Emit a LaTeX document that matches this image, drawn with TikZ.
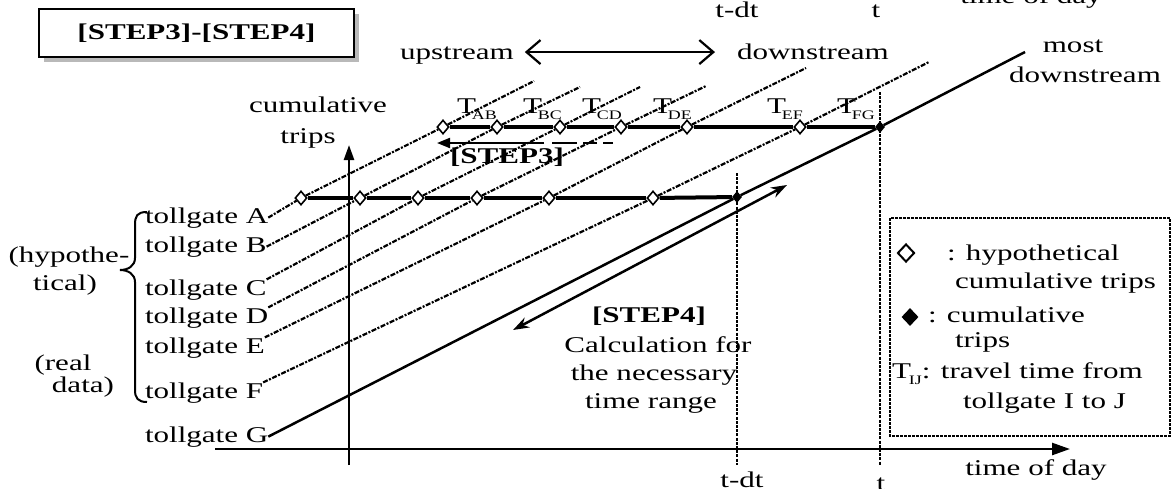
\documentclass[tikz,border=0pt]{standalone}
\usepackage{fontspec}
\setmainfont{Liberation Serif}[FakeStretch=1.38]
\usetikzlibrary{arrows.meta,shapes.geometric}
\newcommand\Tsub[2][-4pt]{T\kern#1\raisebox{-6pt}{\fontsize{13}{13}\selectfont #2}}
\begin{document}
\begin{tikzpicture}[x=1pt,y=-1pt,
  lbl/.style={font=\fontsize{22.5}{29}\selectfont, inner sep=0pt, outer sep=0pt},
  bld/.style={font=\fontsize{22.5}{29}\selectfont\bfseries, inner sep=0pt, outer sep=0pt},
  odia/.style={diamond, draw, fill=white, line width=1.6pt, minimum width=12pt, minimum height=14pt, inner sep=0pt},
  fdia/.style={diamond, fill=black, minimum width=10pt, minimum height=12pt, inner sep=0pt},
  dline/.style={line width=2.2pt, dash pattern=on 5pt off 1.5pt on 2pt off 1.5pt},
  rowline/.style={line width=4pt},
  vdot/.style={line width=2.5pt, dash pattern=on 3pt off 1.2pt},
]
\useasboundingbox (0,0) rectangle (1174,488);

% title box with shadow
\fill[gray!55] (44,14) rectangle (359,62);
\node[draw, fill=white, line width=2pt, minimum width=315pt, minimum height=48pt, anchor=north west, bld] (title) at (39,9) {[STEP3]-[STEP4]};

% diamonds (lower row y=198, upper row y=127)
\node[odia] (dA1) at (301,198) {};
\node[odia] (dB1) at (360,198) {};
\node[odia] (dC1) at (418,198) {};
\node[odia] (dD1) at (477,198) {};
\node[odia] (dE1) at (549,198) {};
\node[odia] (dF1) at (653,198) {};
\node[fdia] (dG1) at (737,197) {};
\node[odia] (dA2) at (443,127) {};
\node[odia] (dB2) at (497,127) {};
\node[odia] (dC2) at (560,127) {};
\node[odia] (dD2) at (621,127) {};
\node[odia] (dE2) at (687,127) {};
\node[odia] (dF2) at (800,127) {};
\node[fdia] (dG2) at (880,127) {};

% line ends
\coordinate (eA) at (534,81);
\coordinate (eB) at (580,87);
\coordinate (eC) at (640,87);
\coordinate (eD) at (706,86);
\coordinate (eE) at (806,68);
\coordinate (eF) at (929,62);
\coordinate (eG) at (1025,52);

% tollgate labels
\node[lbl, anchor=base west] (tgA) at (145,223) {tollgate A};
\node[lbl, anchor=base west] (tgB) at (145,252) {tollgate B};
\node[lbl, anchor=base west] (tgC) at (145,295) {tollgate C};
\node[lbl, anchor=base west] (tgD) at (145,323) {tollgate D};
\node[lbl, anchor=base west] (tgE) at (145,353) {tollgate E};
\node[lbl, anchor=base west] (tgF) at (145,398) {tollgate F};
\node[lbl, anchor=base west] (tgG) at (145,442) {tollgate G};

% axes
\coordinate (xs) at (215,449); \coordinate (xe) at (1070,449);
\coordinate (ys) at (349,465); \coordinate (ye) at (349,145);
\draw[line width=2.5pt, -{Triangle[length=18pt,width=12pt]}] (xs) -- (xe);
\draw[line width=2.5pt, -{Triangle[length=15pt,width=10pt]}] (ys) -- (ye);

% vertical dotted time lines
\coordinate (tdtT) at (737,173); \coordinate (tdtB) at (737,465);
\coordinate (tT) at (880,92); \coordinate (tB) at (880,465);
\draw[vdot] (tdtT) -- (tdtB);
\draw[vdot] (tT) -- (tB);

% cumulative curves
\draw[dline] (tgA.east) -- (dA1) -- (dA2) -- (eA);
\draw[dline] (tgB.east) -- (dB1) -- (dB2) -- (eB);
\draw[dline] (tgC.north east) -- (dC1) -- (dC2) -- (eC);
\draw[dline] (tgD.north east) -- (dD1) -- (dD2) -- (eD);
\draw[dline] (tgE.north east) -- (dE1) -- (dE2) -- (eE);
\draw[dline] (tgF.north east) -- (dF1) -- (dF2) -- (eF);
\draw[line width=2.5pt] (tgG.east) -- (dG1) -- (dG2) -- (eG);

% thick rows
\foreach \a/\b in {A/B,B/C,C/D,D/E,E/F,F/G} {
  \draw[rowline] (d\a1) -- (d\b1);
  \draw[rowline] (d\a2) -- (d\b2);
}

% travel time labels
\node[lbl, anchor=base west] (TAB) at (457,113) {\Tsub{AB}};
\node[lbl, anchor=base west] (TBC) at (523,113) {\Tsub{BC}};
\node[lbl, anchor=base west] (TCD) at (582,113) {\Tsub{CD}};
\node[lbl, anchor=base west] (TDE) at (653,113) {\Tsub{DE}};
\node[lbl, anchor=base west] (TEF) at (767,113) {\Tsub{EF}};
\node[lbl, anchor=base west] (TFG) at (837,113) {\Tsub{FG}};

% STEP3
\coordinate (s3a) at (613,143); \coordinate (s3b) at (437,143);
\draw[line width=2pt, dash pattern=on 10pt off 6pt on 14pt off 6pt on 25pt off 8pt on 200pt, -{Triangle[length=13pt,width=10pt]}] (s3a) -- (s3b);
\node[bld, anchor=base] (s3) at (507,163) {[STEP3]};

% STEP4
\coordinate (s4a) at (513,330); \coordinate (s4b) at (787,185);
\draw[line width=2.5pt, {Stealth[length=16pt,width=11pt]}-{Stealth[length=16pt,width=11pt]}] (s4a) -- (s4b);
\node[bld, anchor=base] (s4) at (649,322) {[STEP4]};
\node[lbl, anchor=base] (c1) at (658,352) {Calculation for};
\node[lbl, anchor=base] (c2) at (654,380) {the necessary};
\node[lbl, anchor=base] (c3) at (651,408) {time range};

% upstream / downstream
\node[lbl, anchor=base west] (up) at (400,59) {upstream};
\node[lbl, anchor=base west] (down) at (737,59) {downstream};
\path ([shift={(11pt,3pt)}]up.east) coordinate (ua);
\path (ua -| down.west) coordinate (ub0);
\path ([xshift=-22pt]ub0) coordinate (ub);
\draw[line width=2.2pt, {Straight Barb[length=14pt,width=24pt]}-{Straight Barb[length=14pt,width=24pt]}] (ua) -- (ub);

% other labels
\node[lbl, anchor=base] (most1) at (1073,52) {most};
\node[lbl, anchor=base] (most2) at (1085,82) {downstream};
\node[lbl, anchor=base] (cum1) at (318,112) {cumulative};
\node[lbl, anchor=base] (cum2) at (308,143) {trips};
\node[lbl, anchor=base] (tdt1) at (737,17) {t-dt};
\node[lbl, anchor=base] (t1) at (876,17) {t};
\node[lbl, anchor=base] (tod1) at (1031,3) {time of day};
\node[lbl, anchor=base] (tdt2) at (742,487) {t-dt};
\node[lbl, anchor=base] (t2) at (881,490) {t};
\node[lbl, anchor=base] (tod2) at (1036,475) {time of day};

% brace and group labels
\draw[line width=2pt] (147,212) .. controls (137,212) and (135,216) .. (135,225) -- (135,258)
  .. controls (135,266) and (128,270) .. (120,270)
  .. controls (128,270) and (135,274) .. (135,282) -- (135,390)
  .. controls (135,398) and (138,402) .. (147,402);
\node[lbl, anchor=base] (hy1) at (69,262) {(hypothe-};
\node[lbl, anchor=base] (hy2) at (65,290) {tical)};
\node[lbl, anchor=base] (rd1) at (63,370) {(real};
\node[lbl, anchor=base] (rd2) at (83,392) {data)};

% legend
\draw[line width=2.5pt, dash pattern=on 3pt off 1pt] (890,218) rectangle (1170,436);
\node[odia, minimum width=17pt, minimum height=18pt, line width=2pt] (lgo) at (906,253) {};
\node[fdia, minimum width=17pt, minimum height=18pt] (lgf) at (910,317) {};
\node[lbl, anchor=base west] (lg1) at (947,260) {: hypothetical};
\node[lbl, anchor=base west] (lg2) at (955,288) {cumulative trips};
\node[lbl, anchor=base west] (lg3) at (928,322) {: cumulative};
\node[lbl, anchor=base west] (lg4) at (955,347) {trips};
\node[lbl, anchor=base west] (lg5) at (892,378) {\Tsub[-2pt]{IJ}: travel time from};
\node[lbl, anchor=base west] (lg6) at (963,408) {tollgate I to J};
\end{tikzpicture}
\end{document}
